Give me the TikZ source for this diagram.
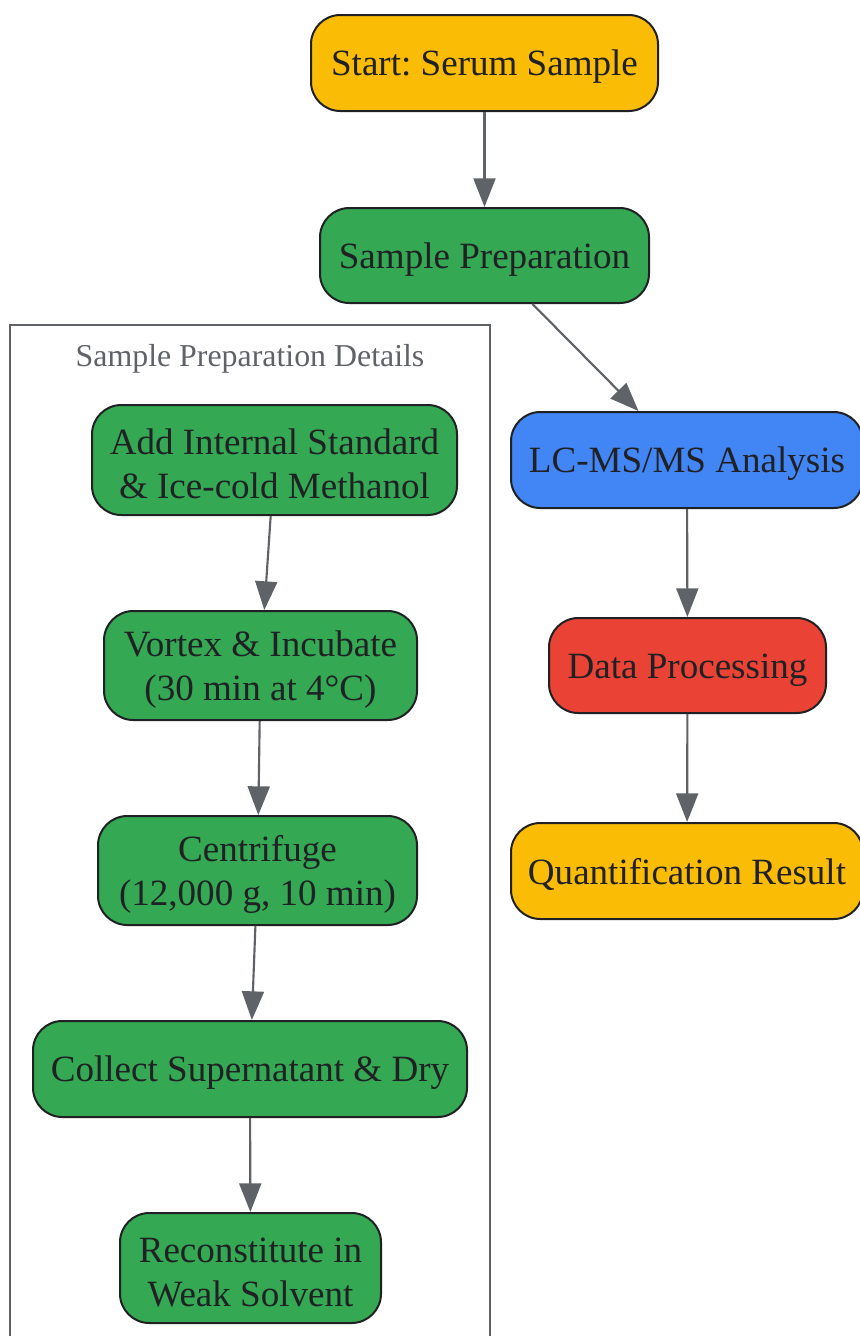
\documentclass[tikz,border=0pt]{standalone}
\usepackage{fontspec}
\setmainfont{Liberation Serif}
\frenchspacing
\usepackage{tikz}
\usetikzlibrary{arrows.meta}
\definecolor{gyellow}{HTML}{FBBC05}
\definecolor{ggreen}{HTML}{34A853}
\definecolor{gblue}{HTML}{4285F4}
\definecolor{gred}{HTML}{EA4335}
\definecolor{ink}{HTML}{202124}
\definecolor{edgegray}{HTML}{5F6368}
\tikzset{procbox/.style={rectangle, draw=ink, line width=1.5pt, rounded corners=22pt, align=center, text=ink, inner sep=0pt, font=\fontsize{27.8}{33}\selectfont}}
\tikzset{flow/.style={draw=edgegray, line width=1.6pt, -{Triangle[length=21.5pt,width=16.5pt]}}}
\tikzset{cluster/.style={rectangle, draw=edgegray, line width=1.5pt, inner sep=0pt}}

\begin{document}
\begin{tikzpicture}[x=0.75pt,y=-0.75pt]
  \clip (0,0) rectangle (860,1336);
  \node[cluster, minimum width=480*0.75pt, minimum height=1030*0.75pt] (details) at (250,840) {};
  \node[text=edgegray, font=\fontsize{23.9}{28}\selectfont] (detailslabel) at (250,359) {Sample Preparation Details};
  \foreach \x/\y/\w/\h/\lab/\col/\txt in {
    484.5/63/347/96/start/gyellow/{Start: Serum Sample},
    484.5/255.5/329/95/prep/ggreen/{Sample Preparation},
    274.5/460/365/110/addis/ggreen/{Add Internal Standard\\\& Ice-cold Methanol},
    260.5/665.5/313/109/vortex/ggreen/{Vortex \& Incubate\\(30 min at 4°C)},
    257.5/870.5/319/109/spin/ggreen/{Centrifuge\\(12,000 g, 10 min)},
    250/1069/434/96/collect/ggreen/{Collect Supernatant \& Dry},
    250.5/1268/261/110/recon/ggreen/{Reconstitute in\\Weak Solvent},
    687/460/352/96/lcms/gblue/{LC-MS/MS Analysis},
    687.5/665.5/277/95/data/gred/{Data Processing},
    687/871/352/96/quant/gyellow/{Quantification Result}%
  } {
    \node[procbox, fill=\col, minimum width=\w*0.75pt, minimum height=\h*0.75pt] (\lab) at (\x,\y) {\rule{0pt}{25pt}\txt};
  }
  \foreach \u/\v in {
    start/prep,
    prep/lcms,
    addis/vortex,
    vortex/spin,
    spin/collect,
    collect/recon,
    lcms/data,
    data/quant%
  }{
    \draw[flow] (\u) -- (\v);
  }
\end{tikzpicture}
\end{document}
